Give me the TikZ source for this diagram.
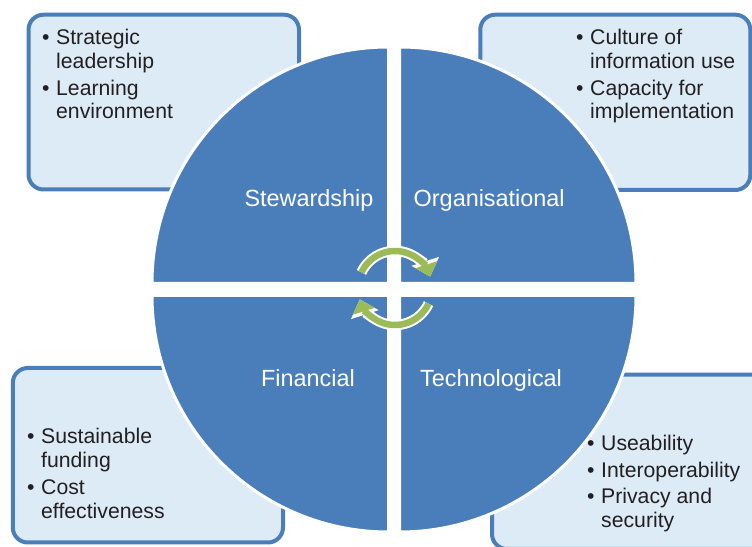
\documentclass[tikz,border=0pt]{standalone}
\usepackage{fontspec}
\setmainfont{Liberation Sans}
\usetikzlibrary{arrows.meta}

\definecolor{quadblue}{HTML}{4A7EBB}
\definecolor{boxfill}{HTML}{DDEBF7}
\definecolor{cyclegreen}{HTML}{9BBB59}
\definecolor{bodytext}{HTML}{231F20}

\newcommand{\bul}{\makebox[14bp][l]{\textbullet}}
\newcommand{\ind}{\hspace*{14bp}}

\begin{document}
\begin{tikzpicture}[x=1bp, y=1bp,
        infobox/.style={draw=quadblue, fill=boxfill, line width=4bp, rounded corners=15bp},
        quarter/.style={fill=quadblue, draw=white, line width=3bp},
        pillar/.style={text=white, font=\fontsize{23.5}{28}\selectfont, anchor=base, inner sep=0pt},
        bullets/.style={text=bodytext, font=\fontsize{21.3}{24}\selectfont, align=left, anchor=north west, inner sep=0pt},
        cyclearrow/.style={draw=cyclegreen, line width=6.5bp, -{Triangle[length=12.5bp,width=22bp]},
            preaction={draw=white, line width=10.5bp, -{Triangle[length=16bp,width=28bp]}}}]
        \useasboundingbox (0,0) rectangle (752,547);

        % boxes behind the circle
        \draw[infobox] (28.5,357.5) rectangle (299,532.3);
        \draw[infobox] (480.3,357) rectangle (750.3,532.3);
        \draw[infobox] (12.8,4.5) rectangle (283,179);
        \draw[infobox] (492,-2) rectangle (775,172.3);

        % four quarters
        \foreach \cx/\cy/\a in {388.5/263.5/90, 399.5/263.5/0, 388.5/251.5/180, 399.5/251.5/270}{
            \draw[quarter] (\cx,\cy) -- ++(\a:236.5) arc[start angle=\a, delta angle=90, radius=236.5] -- cycle;
        }

        \node[pillar] (stew) at (309,340.3) {Stewardship};
        \node[pillar] (org) at (489.2,340.3) {Organisational};
        \node[pillar] (fin) at (308,160) {Financial};
        \node[pillar] (tech) at (491,160) {Technological};

        % cycle arrows
        \coordinate (hub) at (395,259);
        \draw[cyclearrow] (hub) ++(155:37) arc[start angle=155, end angle=18, radius=37];
        \draw[cyclearrow] (hub) ++(-25:37) arc[start angle=-25, end angle=-162, radius=37];

        \node[bullets] (stewlist) at (42,518) {\bul Strategic\\\ind leadership\\[2.7bp]\bul Learning\\\ind environment};
        \node[bullets] (orglist) at (576,518) {\bul Culture of\\\ind information use\\[2.7bp]\bul Capacity for\\\ind implementation};
        \node[bullets] (finlist) at (27,119) {\bul Sustainable\\\ind funding\\[2.7bp]\bul Cost\\\ind effectiveness};
        \node[bullets] (techlist) at (587,112) {\bul Useability\\[2.7bp]\bul Interoperability\\[2.7bp]\bul Privacy and\\\ind security};
\end{tikzpicture}
\end{document}
